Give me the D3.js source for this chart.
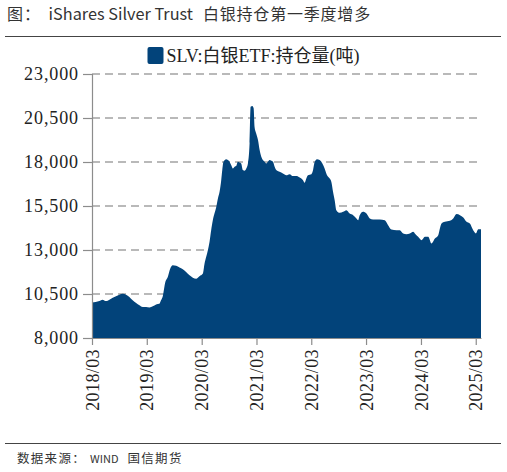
<!DOCTYPE html>
<html>
<head>
<meta charset="utf-8">
<script src="https://cdn.jsdelivr.net/npm/d3@7"></script>
<style>
  body { margin: 0; background: #fff; }
  svg { display: block; }
</style>
</head>
<body>
<script>
// SLV silver holdings (tonnes)
var dates = ["2018-03-01","2018-04-19","2018-05-11","2018-06-02","2018-06-25","2018-07-17","2018-08-08","2018-08-30",
  "2018-09-22","2018-10-14","2018-11-05","2018-11-27","2018-12-20","2019-01-11","2019-02-02","2019-02-24","2019-03-19",
  "2019-04-10","2019-05-02","2019-05-24","2019-06-04","2019-06-16","2019-07-03","2019-07-19","2019-08-04","2019-08-21",
  "2019-09-13","2019-10-05","2019-10-27","2019-11-18","2019-12-11","2020-01-02","2020-01-24","2020-02-15","2020-03-09",
  "2020-03-20","2020-03-31","2020-04-11","2020-04-22","2020-05-03","2020-05-14","2020-05-25","2020-06-06","2020-06-17",
  "2020-06-28","2020-07-09","2020-07-16","2020-07-24","2020-08-11","2020-08-29","2020-09-14","2020-09-25","2020-10-06",
  "2020-10-17","2020-10-28","2020-11-08","2020-11-19","2020-11-30","2020-12-12","2020-12-23","2021-01-03","2021-01-14",
  "2021-01-21","2021-02-01","2021-02-10","2021-02-16","2021-02-27","2021-03-11","2021-03-22","2021-04-02","2021-04-13",
  "2021-04-24","2021-05-05","2021-05-16","2021-05-27","2021-06-08","2021-06-19","2021-06-30","2021-07-11","2021-08-02",
  "2021-08-24","2021-09-16","2021-10-08","2021-10-30","2021-11-21","2021-12-14","2022-01-05","2022-01-16","2022-01-27",
  "2022-02-07","2022-03-02","2022-03-13","2022-03-24","2022-04-08","2022-04-26","2022-05-14","2022-05-29","2022-06-14",
  "2022-07-02","2022-07-13","2022-07-24","2022-08-04","2022-08-15","2022-09-07","2022-09-29","2022-10-21","2022-11-12",
  "2022-12-05","2022-12-27","2023-01-07","2023-01-18","2023-02-09","2023-03-04","2023-03-26","2023-04-17","2023-05-31",
  "2023-07-04","2023-07-26","2023-08-17","2023-09-20","2023-10-12","2023-11-03","2023-11-25","2023-12-18","2024-01-09",
  "2024-01-20","2024-02-11","2024-03-05","2024-03-27","2024-04-18","2024-05-10","2024-06-02","2024-06-24","2024-07-05",
  "2024-07-16","2024-08-07","2024-09-10","2024-10-02","2024-10-24","2024-11-16","2024-12-08","2024-12-30","2025-01-21",
  "2025-02-12","2025-03-02","2025-03-18","2025-04-05"];
var holdings = [10010,10100,10180,10100,10180,10290,10370,10460,
  10520,10460,10330,10140,9990,9860,9760,9760,9740,
  9800,9910,9950,10140,10390,11190,11470,11940,12130,
  12100,12000,11900,11750,11560,11430,11370,11510,11660,
  12230,12610,12990,13460,14120,14690,15070,15450,15930,
  16310,16970,17540,18010,18160,18070,17820,17630,17730,
  17770,18010,17970,17920,17540,17500,17630,17920,19060,
  21140,21180,21050,20000,19620,19250,18680,18300,18110,
  18010,17920,18010,18110,18070,18010,17730,17540,17440,
  17350,17250,17310,17200,17200,17120,16970,16820,17060,
  17250,17310,17540,18010,18160,18110,17920,17630,17250,
  17060,16870,16310,15830,15260,15110,15170,15260,15070,
  14980,14790,14690,14980,15170,15070,14790,14730,14730,
  14690,14410,14160,14120,14120,13940,13900,13940,14030,
  13940,13750,13560,13750,13750,13370,13650,13840,14220,
  14500,14600,14660,14790,15040,14980,14850,14600,14500,
  14120,13940,14180,14180];
var tickYears = [2018, 2019, 2020, 2021, 2022, 2023, 2024, 2025];
var yTicks = [8000, 10500, 13000, 15500, 18000, 20500, 23000];
var seriesName = "SLV:白银ETF:持仓量(吨)";

var W = 507, H = 472;
var margin = {left: 92, right: 26, top: 74, bottom: 134};
var parse = d3.timeParse("%Y-%m-%d");
var data = dates.map(function(d, i){ return {date: parse(d), value: holdings[i]}; });

var svg = d3.select("body").append("svg").attr("width", W).attr("height", H);
var cjk = "Noto Sans CJK SC, Noto Sans, sans-serif";
var serif = "Liberation Serif, Noto Sans CJK SC, serif";

// title + rules
var title = svg.append("text").attr("x", 7).attr("y", 20)
  .attr("font-family", cjk).attr("font-size", 16).attr("fill", "#333");
title.append("tspan").attr("letter-spacing", 1).text("图： ");
title.append("tspan").attr("dx", 3).attr("font-size", 16.3).text("iShares Silver Trust");
title.append("tspan").attr("dx", 10).attr("letter-spacing", 0.8).text("白银持仓第一季度增多");
svg.append("line").attr("x1", 5).attr("x2", 501).attr("y1", 36.5).attr("y2", 36.5)
  .attr("stroke", "#444").attr("stroke-width", 1);
svg.append("line").attr("x1", 5).attr("x2", 501).attr("y1", 443.5).attr("y2", 443.5)
  .attr("stroke", "#444").attr("stroke-width", 1);
var foot = svg.append("text").attr("x", 17).attr("y", 463)
  .attr("font-family", cjk).attr("font-size", 12.5).attr("fill", "#333");
foot.append("tspan").attr("letter-spacing", 1.3).text("数据来源： ");
foot.append("tspan").attr("font-size", 11).text("WIND");
foot.append("tspan").attr("dx", 9).attr("letter-spacing", 1.3).text("国信期货");

var x = d3.scaleTime()
  .domain(d3.extent(data, function(d){ return d.date; }))
  .range([margin.left, W - margin.right]);
var y = d3.scaleLinear().domain([8000, 23000]).range([H - margin.bottom, margin.top]);

// dashed gridlines
svg.append("g").selectAll("line").data(yTicks.slice(1)).enter().append("line")
  .attr("x1", margin.left).attr("x2", W - margin.right + 1)
  .attr("y1", function(d){ return y(d); }).attr("y2", function(d){ return y(d); })
  .attr("stroke", "#a3a3a3").attr("stroke-width", 1.4).attr("stroke-dasharray", "8,5");

// area
var area = d3.area().curve(d3.curveMonotoneX)
  .x(function(d){ return x(d.date); })
  .y0(y(8000)).y1(function(d){ return y(d.value); });
svg.append("path").datum(data).attr("d", area).attr("fill", "#02437a");

// y axis
var yAxis = svg.append("g").attr("transform", "translate(" + margin.left + ",0)")
  .call(d3.axisLeft(y).tickValues(yTicks).tickFormat(d3.format(",")).tickSize(9).tickPadding(4))
  .attr("font-family", serif).attr("font-size", 18);
yAxis.select(".domain").attr("stroke", "#8c8c8c").attr("stroke-width", 1.2);
yAxis.selectAll(".tick line").attr("stroke", "#8c8c8c").attr("stroke-width", 1.2);
yAxis.selectAll("text").attr("font-family", serif).attr("font-size", 18)
  .attr("letter-spacing", 0.9).attr("fill", "#222");

// x axis
var xAxis = svg.append("g").attr("transform", "translate(0," + (H - margin.bottom) + ")")
  .call(d3.axisBottom(x)
    .tickValues(tickYears.map(function(yr){ return new Date(yr, 2, 1); }))
    .tickFormat(d3.timeFormat("%Y/%m")).tickSize(7).tickSizeOuter(0))
  .attr("font-family", serif).attr("font-size", 18);
xAxis.select(".domain").attr("stroke", "#8c8c8c").attr("stroke-width", 1.2);
xAxis.selectAll(".tick line").attr("stroke", "#8c8c8c").attr("stroke-width", 1.2);
xAxis.selectAll("text").attr("font-family", serif).attr("font-size", 18)
  .attr("letter-spacing", 0.4).attr("fill", "#222")
  .attr("transform", "rotate(-90)").attr("text-anchor", "end")
  .attr("x", -11).attr("y", 0).attr("dy", "0.34em");

// legend, centred on the page
var legend = svg.append("g");
var lt = legend.append("text").attr("y", 62).attr("font-family", serif).attr("font-size", 18)
  .attr("fill", "#222").text(seriesName);
var tw = lt.node().getComputedTextLength();
var lx = W / 2 - (tw + 19) / 2;
legend.append("rect").attr("x", lx).attr("y", 47).attr("width", 16).attr("height", 17)
  .attr("rx", 2).attr("fill", "#02437a");
lt.attr("x", lx + 19);
</script>
</body>
</html>
